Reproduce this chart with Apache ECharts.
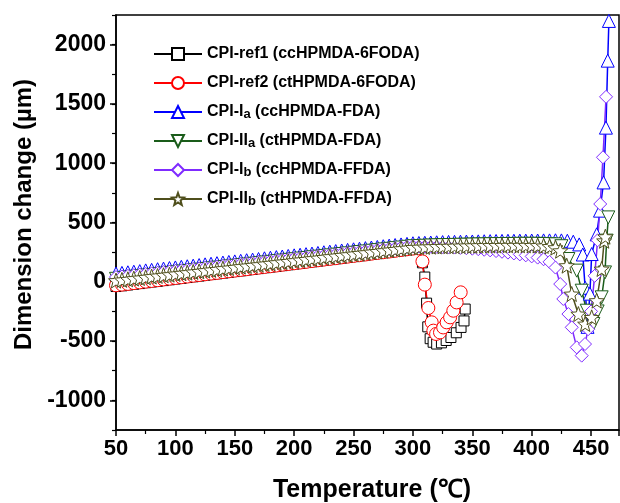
<!DOCTYPE html>
<html>
<head>
<meta charset="utf-8">
<script src="https://cdn.jsdelivr.net/npm/echarts@6/dist/echarts.min.js"></script>
<style>
  html, body { margin: 0; padding: 0; background: #fff; }
  #chart { width: 620px; height: 503px; }
</style>
</head>
<body>
<div id="chart"></div>
<script>
// 溫度 (℃)，上升段共用
const tempRise = [50,55,60,65,70,75,80,85,90,95,100,105,110,115,120,125,130,135,140,145,150,155,160,165,170,175,180,185,190,195,200,205,210,215,220,225,230,235,240,245,250,255,260,265,270,275,280,285,290,295,300];
// 平台段共用溫度
const tempFlat = [305,310,315,320,325,330,335,340,345,350,355,360,365,370,375,380,385,390,395,400,405,410,415,420];

// 各樣品上升段 (µm)
const ref1Rise = [-40,-34,-27,-21,-15,-8,-2,4,10,17,23,29,36,42,48,55,61,67,73,80,86,92,99,105,111,118,124,130,136,143,149,155,162,168,174,181,187,193,199,206,212,218,225,231,237,244,250,256,262,269,275];
const ref2Rise = [-30,-24,-18,-11,-5,1,7,13,20,26,32,38,44,51,57,63,69,75,82,88,94,100,106,113,119,125,131,137,144,150,156,162,168,175,181,187,193,199,206,212,218,224,230,237,243,249,255,261,268,274,280];
const iaRise = [70,75,80,85,90,96,101,106,111,116,121,126,131,136,141,147,152,157,162,167,172,177,182,187,192,198,203,208,213,218,223,228,233,238,243,249,254,259,264,269,274,279,284,289,294,300,305,310,315,320,325];
const iiaRise = [25,31,36,42,47,53,58,64,69,75,80,86,91,97,102,108,113,119,124,130,135,141,146,152,157,163,168,174,179,185,190,196,201,207,212,218,223,229,234,240,245,251,256,262,267,273,278,284,289,295,300];
const ibRise = [40,45,50,56,61,66,71,76,82,87,92,97,102,108,113,118,123,128,134,139,144,149,154,160,165,170,175,180,186,191,196,201,206,212,217,222,227,232,238,243,248,253,258,264,269,274,279,284,290,295,300];
const iibRise = [10,16,21,27,32,38,44,49,55,60,66,72,77,83,88,94,100,105,111,116,122,128,133,139,144,150,156,161,167,172,178,184,189,195,200,206,212,217,223,228,234,240,245,251,256,262,268,273,279,284,290];

// 平台段
const iaFlat = [327,329,331,333,335,336,337,338,339,340,341,342,343,344,345,346,346,347,347,348,348,349,349,350];
const iiaFlat = [302,304,306,308,309,310,311,312,313,314,315,316,317,318,318,319,319,320,320,320,320,319,318,316];
const ibFlat = [298,297,296,295,293,291,289,286,283,279,275,270,265,259,253,246,239,231,223,214,204,190,168,120];
const iibFlat = [292,294,296,298,299,300,301,302,303,304,305,306,306,307,307,308,308,308,308,307,306,303,298,288];

// 轉變段 [溫度, 尺寸變化]
const ref1Tail = [[305,280],[308,160],[310,40],[311.5,-180],[312.5,-380],[314.5,-480],[317,-510],[320,-525],[324,-515],[328,-495],[332,-470],[336.5,-430],[340.5,-385],[343,-330],[344,-230]];
const ref2Tail = [[305,282],[308,172],[310,-24],[313,-221],[315.8,-342],[317.2,-412],[319.5,-440],[322.8,-427],[325.5,-385],[328.4,-342],[331.3,-300],[334,-244],[336.8,-174],[340.2,-89]];
const iaTail = [[425,349],[430,346],[435,338],[440,315],[443,230],[445,-50],[447,-380],[449,-100],[450.5,234],[454.7,400],[457.5,600],[460.5,838],[462.5,1300],[464,1865],[465,2200]];
const iiaTail = [[425,300],[430.9,192],[437.9,94],[442.1,-75],[446.3,-244],[451.9,-356],[455.5,-250],[458.9,-131],[461.7,79],[463.1,347],[464.5,543]];
const ibTail = [[424,-19],[426.6,-145],[430.9,-272],[433.7,-384],[437.9,-553],[442.1,-623],[444.9,-525],[447.5,-400],[450,-250],[453,50],[455.5,350],[457.7,656],[460,1050],[462.6,1560]];
const iibTail = [[424,262],[429.5,136],[433.7,-103],[439.3,-272],[445,-356],[450.5,-300],[454.7,-159],[458.9,108],[461,346],[462,380]];

const seriesNames = ['CPI-ref1 (ccHPMDA-6FODA)', 'CPI-ref2 (ctHPMDA-6FODA)', 'CPI-Ia (ccHPMDA-FDA)', 'CPI-IIa (ctHPMDA-FDA)', 'CPI-Ib (ccHPMDA-FFDA)', 'CPI-IIb (ctHPMDA-FFDA)'];
const legendLabels = ['CPI-ref1 (ccHPMDA-6FODA)', 'CPI-ref2 (ctHPMDA-6FODA)', 'CPI-I{s|a} (ccHPMDA-FDA)', 'CPI-II{s|a} (ctHPMDA-FDA)', 'CPI-I{s|b} (ccHPMDA-FFDA)', 'CPI-II{s|b} (ctHPMDA-FFDA)'];

const font = '"Liberation Sans", Arial, sans-serif';
const STAR = 'path://M12,1 L14.9,8.6 L23,9 L16.7,14.2 L18.9,22 L12,17.6 L5.1,22 L7.3,14.2 L1,9 L9.1,8.6 Z';
const DOWN = 'path://M0,0 L10,0 L5,9 Z';

const zip = (ts, vs) => ts.map((t, i) => [t, vs[i]]);

const makeSeries = (name, color, symbol, size, data) => ({
    name: name,
    type: 'line',
    data: data,
    symbol: symbol,
    symbolSize: size,
    showAllSymbol: true,
    lineStyle: { color: color, width: 1.5 },
    itemStyle: { color: '#fff', borderColor: color, borderWidth: 1 },
    emphasis: { disabled: true },
    animation: false
});

const chart = echarts.init(document.getElementById('chart'));

chart.setOption({
    backgroundColor: '#fff',
    animation: false,
    grid: {
        left: 116, right: 1, top: 15, bottom: 73,
        containLabel: false,
        outerBoundsMode: 'none',
        show: true, borderColor: '#000', borderWidth: 1.5
    },
    legend: {
        orient: 'vertical',
        left: 153,
        top: 45,
        padding: 0,
        itemWidth: 48,
        itemHeight: 15,
        itemGap: 11,
        data: seriesNames,
        formatter: name => legendLabels[seriesNames.indexOf(name)],
        textStyle: {
            fontFamily: font, fontSize: 16, fontWeight: 'bold', color: '#000', lineHeight: 18,
            rich: {
                s: { fontFamily: font, fontSize: 13, fontWeight: 'bold', color: '#000', verticalAlign: 'bottom', padding: [14, 0, 0, 0] }
            }
        }
    },
    xAxis: {
        type: 'value',
        min: 50,
        max: 473.5,
        interval: 50,
        name: 'Temperature (℃)',
        nameLocation: 'middle',
        nameGap: 48,
        nameTextStyle: { fontFamily: font, fontSize: 25, fontWeight: 'bold', color: '#000', padding: [0, 0, 0, 9] },
        axisLine: { onZero: false, lineStyle: { color: '#000', width: 1.5 } },
        axisTick: { length: 6, lineStyle: { color: '#000', width: 1.5 } },
        minorTick: { show: true, splitNumber: 2, length: 4, lineStyle: { color: '#000', width: 1.2 } },
        splitLine: { show: false },
        axisLabel: {
            fontFamily: font, fontSize: 22, fontWeight: 'bold', color: '#000', margin: 8,
            formatter: v => (v % 50 === 0 ? String(v) : '')
        }
    },
    yAxis: [
        {
            type: 'value',
            min: -1250,
            max: 2250,
            interval: 250,
            name: 'Dimension change (µm)',
            nameLocation: 'middle',
            nameGap: 76,
            nameTextStyle: { fontFamily: font, fontSize: 24, fontWeight: 'bold', color: '#000', padding: [0, 0, 0, 16] },
            axisLine: { show: true, onZero: false, lineStyle: { color: '#000', width: 1.5 } },
            axisTick: { length: 6, customValues: [-1000, -500, 0, 500, 1000, 1500, 2000], lineStyle: { color: '#000', width: 1.5 } },
            splitLine: { show: false },
            axisLabel: {
                fontFamily: font, fontSize: 23, fontWeight: 'bold', color: '#000', margin: 10,
                formatter: v => (v % 500 === 0 ? String(v) : '')
            }
        },
        {
            type: 'value',
            position: 'left',
            min: -1250,
            max: 2250,
            interval: 250,
            axisLine: { show: false },
            axisTick: { show: true, length: 4, lineStyle: { color: '#000', width: 1.2 } },
            axisLabel: { show: false },
            splitLine: { show: false }
        }
    ],
    series: [
        makeSeries(seriesNames[0], '#000000', 'rect', 10, zip(tempRise, ref1Rise).concat(ref1Tail)),
        makeSeries(seriesNames[1], '#ff0000', 'circle', 13, zip(tempRise, ref2Rise).concat(ref2Tail)),
        makeSeries(seriesNames[2], '#0000ff', 'triangle', 13, zip(tempRise, iaRise).concat(zip(tempFlat, iaFlat), iaTail)),
        makeSeries(seriesNames[3], '#1a5c1a', DOWN, 13, zip(tempRise, iiaRise).concat(zip(tempFlat, iiaFlat), iiaTail)),
        makeSeries(seriesNames[4], '#7f2bff', 'diamond', 13, zip(tempRise, ibRise).concat(zip(tempFlat, ibFlat), ibTail)),
        makeSeries(seriesNames[5], '#4f4f1c', STAR, 15, zip(tempRise, iibRise).concat(zip(tempFlat, iibFlat), iibTail))
    ]
});
</script>
</body>
</html>
